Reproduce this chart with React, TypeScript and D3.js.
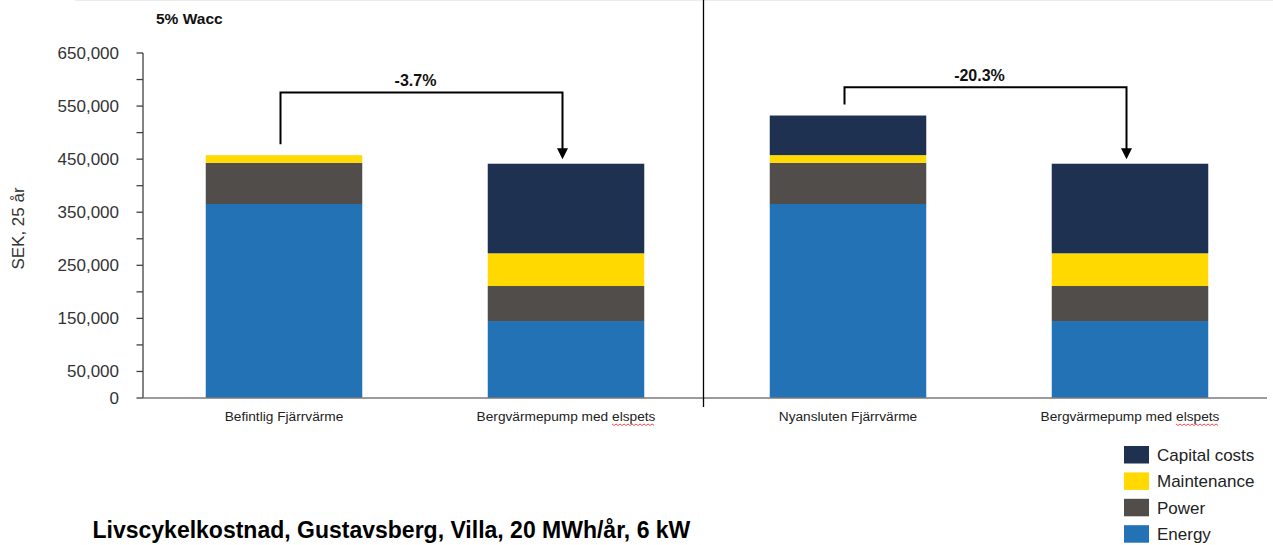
import React from "react";
import * as d3 from "d3";

// Life-cycle cost per heating alternative (SEK over 25 years), stacked by cost type
const categories = [
  "Befintlig Fjärrvärme",
  "Bergvärmepump med elspets",
  "Nyansluten Fjärrvärme",
  "Bergvärmepump med elspets",
];
const energy = [365500, 145000, 365500, 145000];
const power = [77500, 66000, 77500, 66000];
const maintenance = [14500, 61600, 14600, 61600];
const capitalCosts = [0, 168800, 74600, 168800];

const seriesNames = ["Energy", "Power", "Maintenance", "Capital costs"];
const seriesColors: Record<string, string> = {
  Energy: "#2272b5",
  Power: "#514d4a",
  Maintenance: "#ffd900",
  "Capital costs": "#1f3150",
};
const legendOrder = ["Capital costs", "Maintenance", "Power", "Energy"];

const yTicks = d3.range(0, 650001, 50000);

// Comparison brackets: from bar -> to bar, with the relative change
const comparisons = [
  { from: 0, to: 1, label: "-3.7%", level: 575600 },
  { from: 2, to: 3, label: "-20.3%", level: 585400 },
];

const FONT = "'Liberation Sans', Arial, Helvetica, sans-serif";

export default function App() {
  const width = 1273;
  const height = 545;

  const y = d3.scaleLinear().domain([0, 650000]).range([398, 53]);
  const x = d3
    .scaleBand<number>()
    .domain(categories.map((_, i) => i))
    .range([143, 1271])
    .paddingInner(0.445)
    .paddingOuter(0.2225);

  const rows = categories.map((_, i) => ({
    Energy: energy[i],
    Power: power[i],
    Maintenance: maintenance[i],
    "Capital costs": capitalCosts[i],
  }));
  const stacked = d3.stack<any>().keys(seriesNames)(rows);

  const fmt = d3.format(",");
  const axisX = x.range()[0];
  const bw = x.bandwidth();

  const totals = rows.map((r) => seriesNames.reduce((s, k) => s + (r as any)[k], 0));

  return (
    <svg
      width={width}
      height={height}
      style={{ position: "absolute", left: 0, top: 0, background: "#fff" }}
      fontFamily={FONT}
    >
      <line x1={75} x2={1273} y1={0.5} y2={0.5} stroke="#ececec" strokeWidth={1} />

      <text x={156} y={24} fontSize={15.5} fontWeight="bold" fill="#111">
        5% Wacc
      </text>

      {/* stacked bars */}
      {stacked.map((layer) => (
        <g key={layer.key} fill={seriesColors[layer.key]}>
          {layer.map((d, i) =>
            d[1] - d[0] > 0 ? (
              <rect
                key={i}
                x={x(i)}
                y={y(d[1])}
                width={bw}
                height={y(d[0]) - y(d[1])}
              />
            ) : null
          )}
        </g>
      ))}

      {/* y axis */}
      <line x1={axisX} x2={axisX} y1={y(650000)} y2={y(0)} stroke="#404040" strokeWidth={1.3} />
      {yTicks.map((t) => (
        <g key={t}>
          <line x1={axisX - 6.5} x2={axisX} y1={y(t)} y2={y(t)} stroke="#404040" strokeWidth={1.3} />
          {t === 0 || (t / 50000) % 2 === 1 ? (
            <text
              x={119}
              y={y(t)}
              dy="0.35em"
              textAnchor="end"
              fontSize={17}
              fill="#333"
            >
              {fmt(t)}
            </text>
          ) : null}
        </g>
      ))}
      <text
        transform={`translate(24,${(y(0) + y(650000)) / 2 + 3}) rotate(-90)`}
        textAnchor="middle"
        fontSize={17}
        fill="#333"
      >
        SEK, 25 år
      </text>

      {/* x axis */}
      <line x1={axisX} x2={1267} y1={y(0)} y2={y(0)} stroke="#7a7a7a" strokeWidth={1.5} />
      {categories.map((c, i) => {
        const cx = (x(i) as number) + bw / 2;
        const fs = 13.7;
        const showSquiggle = c.endsWith("elspets");
        const tw = 13.06 * fs;
        const wordW = 3.168 * fs;
        const x1 = cx + tw / 2 - wordW;
        const x2 = cx + tw / 2;
        const path = showSquiggle
          ? d3.range(0, Math.floor((x2 - x1) / 2) + 1).map((k) => [x1 + k * 2, 424 + (k % 2 === 0 ? 0 : 1.5)] as [number, number])
          : [];
        return (
          <g key={i}>
            <text x={cx} y={420.5} textAnchor="middle" fontSize={fs} fill="#222">
              {c}
            </text>
            {showSquiggle ? (
              <path d={d3.line()(path) || ""} fill="none" stroke="#e04040" strokeWidth={0.9} />
            ) : null}
          </g>
        );
      })}

      {/* panel divider */}
      <line x1={703.5} x2={703.5} y1={0} y2={407} stroke="#000" strokeWidth={1.3} />

      {/* comparison brackets */}
      {comparisons.map((c, k) => {
        const xa = (x(c.from) as number) + bw / 2 - 3.5;
        const xb = (x(c.to) as number) + bw / 2 - 3.5;
        const yl = y(c.level);
        const ya = y(totals[c.from]) - 11;
        const yb = y(totals[c.to]) - 4.5;
        return (
          <g key={k}>
            <path
              d={`M${xa},${ya} V${yl} H${xb} V${yb - 10}`}
              fill="none"
              stroke="#000"
              strokeWidth={2}
            />
            <path d={`M${xb - 5.5},${yb - 11} L${xb + 5.5},${yb - 11} L${xb},${yb} Z`} fill="#000" />
            <text
              x={(xa + xb) / 2 - 6}
              y={yl - 6}
              textAnchor="middle"
              fontSize={16}
              fontWeight="bold"
              fill="#111"
            >
              {c.label}
            </text>
          </g>
        );
      })}

      {/* legend */}
      {legendOrder.map((name, i) => {
        const top = 446 + i * 26.4;
        return (
          <g key={name}>
            <rect x={1124} y={top} width={25} height={17.5} fill={seriesColors[name]} />
            <text x={1157} y={top + 8.75} dy="0.35em" fontSize={17} fill="#222">
              {name}
            </text>
          </g>
        );
      })}

      <text x={92.5} y={538} fontSize={23} fontWeight="bold" fill="#000">
        Livscykelkostnad, Gustavsberg, Villa, 20 MWh/år, 6 kW
      </text>
    </svg>
  );
}
